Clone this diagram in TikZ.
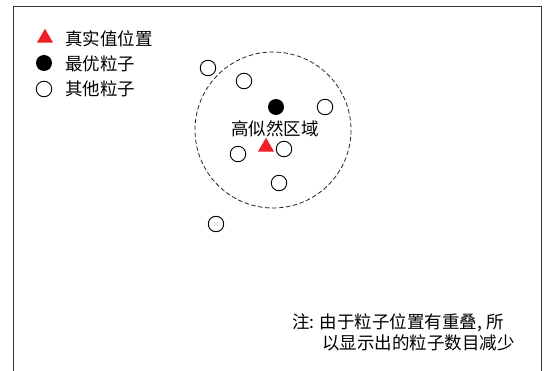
\documentclass[tikz,border=0pt]{standalone}
\usepackage{fontspec}
\setmainfont{Liberation Serif}
\newfontfamily\cjk{Noto Sans CJK SC}
\usetikzlibrary{shapes.geometric}
\definecolor{truered}{RGB}{237,30,36}
\tikzset{
  particle/.style={circle,draw=black,line width=0.9pt,fill=white,minimum size=15.5pt,inner sep=0pt},
  bestparticle/.style={circle,fill=black,minimum size=16pt,inner sep=0pt},
  truepos/.style={regular polygon,regular polygon sides=3,fill=truered,minimum size=18.5pt,inner sep=0pt},
  label/.style={font=\cjk\fontsize{17.5}{20}\selectfont,inner sep=0pt,text=black},
}
\begin{document}
\begin{tikzpicture}[x=1pt,y=-1pt]
\useasboundingbox (0,0) rectangle (545,371);
% frame
\draw[line width=1pt,black!80] (13,371) -- (13,7) -- (541,7) -- (541,371);
% legend
\node[truepos] (lgtri) at (45,38) {};
\node[bestparticle] (lgbest) at (44,63) {};
\node[particle] (lgother) at (44,89) {};
\node[label,anchor=west] (lgt1) at (65,39) {真实值位置};
\node[label,anchor=west] (lgt2) at (65,64) {最优粒子};
\node[label,anchor=west] (lgt3) at (65,89) {其他粒子};
% high-likelihood region
\draw[dash pattern=on 4.5pt off 2.5pt,line width=0.8pt,black!85] (273,130) circle[radius=78];
% particles
\node[particle] (p1) at (208,68) {};
\node[particle] (p2) at (244,81) {};
\node[particle] (p3) at (325,107) {};
\node[particle] (p4) at (238,154) {};
\node[particle] (p5) at (284,149) {};
\node[particle] (p6) at (279,183) {};
\node[particle] (p7) at (216,224) {};
\node[bestparticle] (best) at (276,107) {};
\node[truepos] (truth) at (266,147) {};
\node[label] (regionlabel) at (275,129) {高似然区域};
% note
\node[label,anchor=west] (note1) at (292,323) {注: 由于粒子位置有重叠, 所};
\node[label,anchor=west] (note2) at (322,343) {以显示出的粒子数目减少};
\end{tikzpicture}
\end{document}
